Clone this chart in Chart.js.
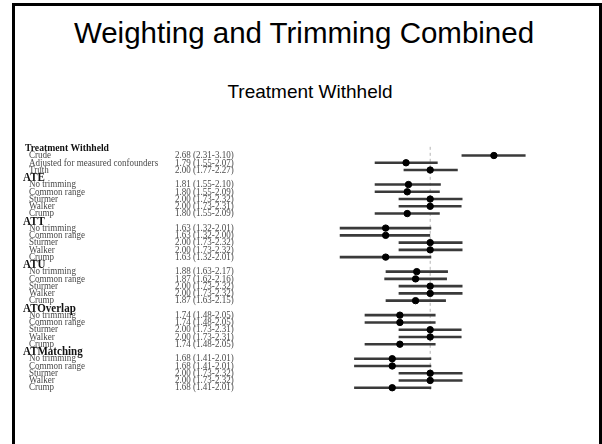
<!DOCTYPE html>
<html>
<head>
<meta charset="utf-8">
<script src="https://cdn.jsdelivr.net/npm/chart.js@4.4.1/dist/chart.umd.min.js"></script>
<style>
  html, body { margin: 0; padding: 0; background: #fff; }
  body { width: 602px; height: 444px; position: relative; overflow: hidden; }
  .slide-frame {
    position: absolute; left: 12px; top: 3px; width: 590px; height: 500px;
    border: 3px solid #000; box-sizing: border-box;
  }
  .slide-title, .slide-subtitle {
    position: absolute; width: 590px; text-align: center;
    font-family: "Liberation Sans", Arial, sans-serif; color: #000; white-space: nowrap;
  }
  .slide-title { left: 9px; top: 13px; font-size: 29.5px; line-height: 40px; }
  .slide-subtitle { left: 15px; top: 81px; font-size: 19px; line-height: 22px; }
  #forestChart { position: absolute; left: 0; top: 0; }
</style>
</head>
<body>
<div class="slide-frame"></div>
<div class="slide-title">Weighting and Trimming Combined</div>
<div class="slide-subtitle">Treatment Withheld</div>
<canvas id="forestChart" width="602" height="444"></canvas>

<script>
// rows of the forest plot, top to bottom; null estimate = group heading
const rowLabels = [
    'Treatment Withheld', 'Crude', 'Adjusted for measured confounders', 'Truth',
    'ATE', 'No trimming', 'Common range', 'Stürmer', 'Walker', 'Crump',
    'ATT', 'No trimming', 'Common range', 'Stürmer', 'Walker', 'Crump',
    'ATU', 'No trimming', 'Common range', 'Stürmer', 'Walker', 'Crump',
    'ATOverlap', 'No trimming', 'Common range', 'Stürmer', 'Walker', 'Crump',
    'ATMatching', 'No trimming', 'Common range', 'Stürmer', 'Walker', 'Crump'
];
const estimates = [
    null, 2.68, 1.79, 2.00,
    null, 1.81, 1.80, 2.00, 2.00, 1.80,
    null, 1.63, 1.63, 2.00, 2.00, 1.63,
    null, 1.88, 1.87, 2.00, 2.00, 1.87,
    null, 1.74, 1.74, 2.00, 2.00, 1.74,
    null, 1.68, 1.68, 2.00, 2.00, 1.68
];
const lowerCI = [
    null, 2.31, 1.55, 1.77,
    null, 1.55, 1.55, 1.73, 1.73, 1.55,
    null, 1.32, 1.32, 1.73, 1.73, 1.32,
    null, 1.63, 1.62, 1.73, 1.73, 1.63,
    null, 1.48, 1.48, 1.73, 1.73, 1.48,
    null, 1.41, 1.41, 1.73, 1.73, 1.41
];
const upperCI = [
    null, 3.10, 2.07, 2.27,
    null, 2.10, 2.09, 2.32, 2.31, 2.09,
    null, 2.01, 2.00, 2.32, 2.32, 2.01,
    null, 2.17, 2.16, 2.32, 2.32, 2.15,
    null, 2.05, 2.05, 2.31, 2.31, 2.05,
    null, 2.01, 2.01, 2.32, 2.32, 2.01
];
const referenceValue = 2.00;

const fmt = v => v.toFixed(2);

// one short line per confidence interval
const ciDatasets = [];
estimates.forEach((est, i) => {
    if (est === null) return;
    ciDatasets.push({
        type: 'line',
        data: [{ x: lowerCI[i], y: i }, { x: upperCI[i], y: i }],
        borderColor: '#3a3a3a',
        borderWidth: 2.6,
        pointRadius: 0,
        clip: false,
        order: 2
    });
});

const pointData = [];
estimates.forEach((est, i) => { if (est !== null) pointData.push({ x: est, y: i }); });

// draws text squeezed sideways, the table in the slide is a narrowed image
function drawText(ctx, text, x, y, sx) {
    ctx.save();
    ctx.translate(x, y);
    ctx.scale(sx, 1);
    ctx.fillText(text, 0, 0);
    ctx.restore();
}

// text columns on the left, placed on the same y scale as the marks
const rowTextPlugin = {
    id: 'rowText',
    afterDraw(chart) {
        const ctx = chart.ctx;
        const yScale = chart.scales.y;
        ctx.save();
        ctx.textBaseline = 'middle';
        rowLabels.forEach((label, i) => {
            const y = yScale.getPixelForValue(i);
            if (estimates[i] === null) {
                ctx.fillStyle = '#111';
                if (i === 0) {
                    ctx.font = 'bold 10.5px "Liberation Serif"';
                    drawText(ctx, label, 25, y, 0.92);
                } else {
                    ctx.font = 'bold 12.5px "Liberation Serif"';
                    drawText(ctx, label, 23, y + 0.5, 0.88);
                }
                return;
            }
            ctx.fillStyle = '#4a4a4a';
            ctx.font = '10.5px "Liberation Serif"';
            drawText(ctx, label, 29, y, 0.86);
            const valueText = `${fmt(estimates[i])} (${fmt(lowerCI[i])}-${fmt(upperCI[i])})`;
            drawText(ctx, valueText, 175, y, 0.86);
        });
        ctx.restore();
    }
};

new Chart(document.getElementById('forestChart'), {
    type: 'scatter',
    data: {
        datasets: [
            {
                type: 'line',
                data: [{ x: referenceValue, y: -0.2 }, { x: referenceValue, y: 33.6 }],
                borderColor: '#b4b4b4',
                borderWidth: 1,
                borderDash: [3, 3],
                pointRadius: 0,
                clip: false,
                order: 3
            },
            ...ciDatasets,
            {
                data: pointData,
                backgroundColor: '#000',
                borderColor: '#000',
                pointRadius: 3.2,
                clip: false,
                order: 1
            }
        ]
    },
    options: {
        responsive: false,
        animation: false,
        devicePixelRatio: 1,
        layout: { padding: { left: 319, right: 50, top: 141, bottom: 49 } },
        scales: {
            x: { type: 'logarithmic', min: 1.2, max: 3.5, display: false },
            y: { type: 'linear', reverse: true, min: -1, max: 34, display: false }
        },
        plugins: { legend: { display: false }, tooltip: { enabled: false } }
    },
    plugins: [rowTextPlugin]
});
</script>
</body>
</html>
